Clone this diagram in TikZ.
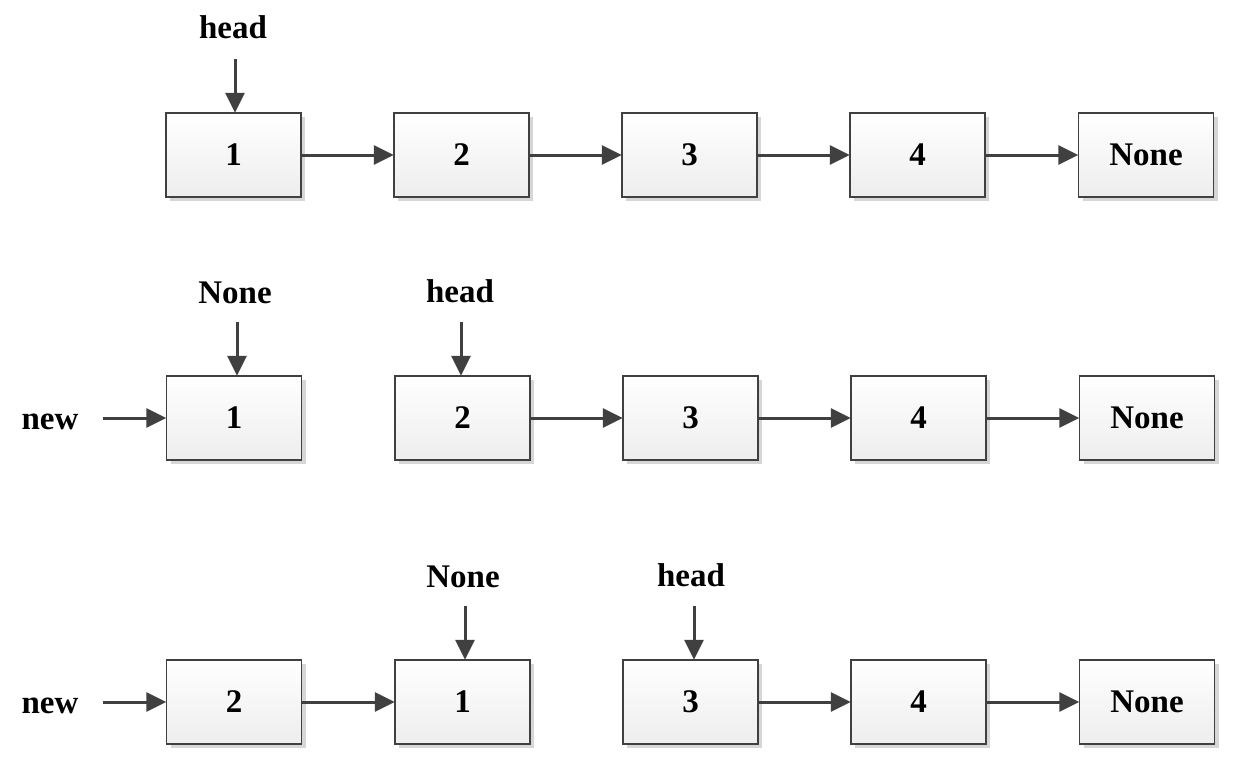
\documentclass[tikz,border=0pt]{standalone}
\usepackage{fontspec}
\setmainfont{Liberation Serif}
\usetikzlibrary{arrows.meta,shadows}
\definecolor{edge}{HTML}{404040}
\definecolor{shad}{HTML}{D6D6D6}
\tikzset{
  cell/.style={draw=edge, line width=1.3pt, minimum width=135pt, minimum height=84pt, inner sep=0pt,
    top color=white, bottom color=black!7,
    drop shadow={shadow xshift=4pt, shadow yshift=-4pt, fill=shad, opacity=1},
    font=\fontsize{33}{36}\selectfont\bfseries},
  lbl/.style={font=\fontsize{33}{36}\selectfont\bfseries, inner sep=0pt},
  link/.style={draw=edge, line width=3pt, -{Triangle[length=20pt,width=19pt]}, shorten >=-0.5pt}
}
\begin{document}
\begin{tikzpicture}[x=1pt,y=-1pt]
\useasboundingbox (0,0) rectangle (1243,772);
% row 1
\node[cell] (a1) at (233.5,155) {1};
\node[cell] (a2) at (461.5,155) {2};
\node[cell] (a3) at (689.5,155) {3};
\node[cell] (a4) at (917.5,155) {4};
\node[cell] (a5) at (1146,155) {None};
\node[lbl] (ha) at (233,27) {head};
\coordinate (ha0) at (235,59);
\draw[link] (ha0) -- (ha0 |- a1.north);
\draw[link] (a1) -- (a2);
\draw[link] (a2) -- (a3);
\draw[link] (a3) -- (a4);
\draw[link] (a4) -- (a5);
% row 2
\node[cell] (b1) at (234,418) {1};
\node[cell] (b2) at (462.5,418) {2};
\node[cell] (b3) at (690.5,418) {3};
\node[cell] (b4) at (918.5,418) {4};
\node[cell] (b5) at (1147,418) {None};
\node[lbl] (nb) at (235,293) {None};
\node[lbl] (hb) at (460,291) {head};
\node[lbl] (wb) at (50,422) {new};
\coordinate (nb0) at (237,322);
\coordinate (hb0) at (461,322);
\coordinate (wb0) at (103,418);
\draw[link] (nb0) -- (nb0 |- b1.north);
\draw[link] (hb0) -- (hb0 |- b2.north);
\draw[link] (wb0) -- (b1);
\draw[link] (b2) -- (b3);
\draw[link] (b3) -- (b4);
\draw[link] (b4) -- (b5);
% row 3
\node[cell] (c1) at (234,702) {2};
\node[cell] (c2) at (462.5,702) {1};
\node[cell] (c3) at (690.5,702) {3};
\node[cell] (c4) at (918.5,702) {4};
\node[cell] (c5) at (1147,702) {None};
\node[lbl] (nc) at (463,577) {None};
\node[lbl] (hc) at (691,575) {head};
\node[lbl] (wc) at (50,706) {new};
\coordinate (nc0) at (465,606);
\coordinate (hc0) at (694,606);
\coordinate (wc0) at (103,702);
\draw[link] (nc0) -- (nc0 |- c2.north);
\draw[link] (hc0) -- (hc0 |- c3.north);
\draw[link] (wc0) -- (c1);
\draw[link] (c1) -- (c2);
\draw[link] (c3) -- (c4);
\draw[link] (c4) -- (c5);
\end{tikzpicture}
\end{document}
